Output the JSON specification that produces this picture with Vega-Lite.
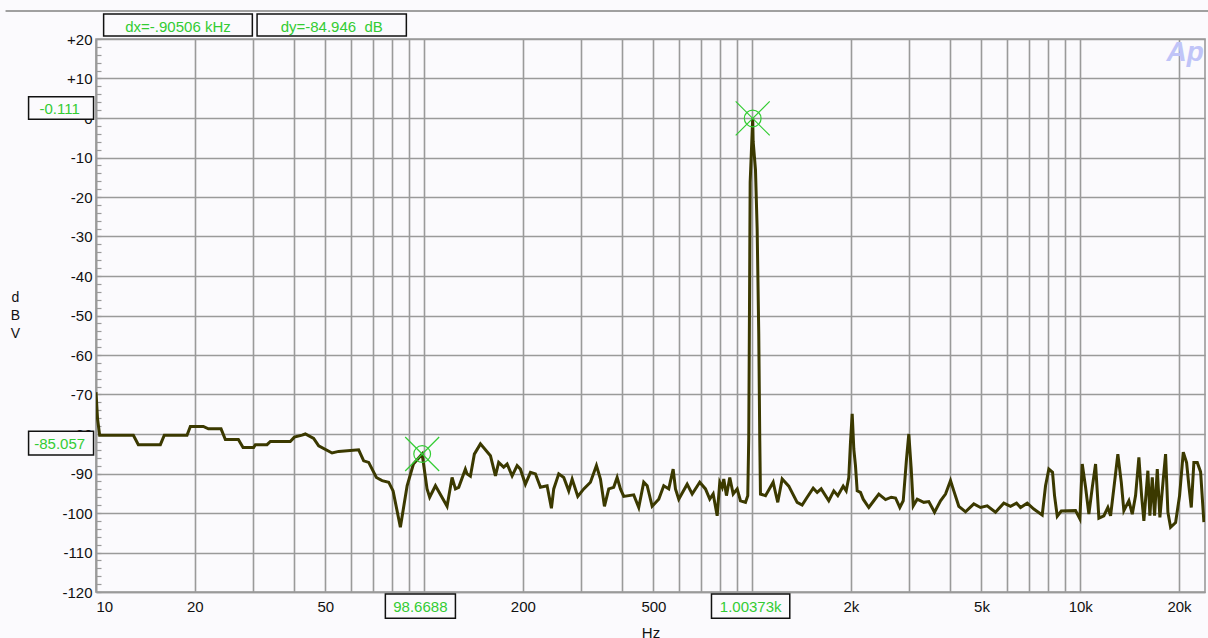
{
  "$schema": "https://vega.github.io/schema/vega-lite/v6.json",
  "autosize": {"type": "none"},
  "padding": {"left": 96, "top": 39, "right": 3, "bottom": 46},
  "width": 1109,
  "height": 553,
  "background": "#fbfafd",
  "view": {"stroke": "#9a9a9a", "strokeWidth": 1.6},
  "config": {"font": "Liberation Sans"},
  "datasets": {
    "spectrum": [
      {"f":10,"db":-69.4},{"f":10.11,"db":-76.2},{"f":10.26,"db":-80.3},{"f":13.0,"db":-80.3},{"f":13.46,"db":-82.7},{"f":15.71,"db":-82.7},{"f":16.15,"db":-80.3},{"f":18.94,"db":-80.3},{"f":19.39,"db":-78.1},{"f":21.24,"db":-78.1},{"f":22.0,"db":-78.7},{"f":24.05,"db":-78.7},{"f":24.79,"db":-81.4},{"f":27.16,"db":-81.4},{"f":28.07,"db":-83.4},{"f":30.23,"db":-83.4},{"f":30.6,"db":-82.7},{"f":33.21,"db":-82.7},{"f":34.0,"db":-81.9},{"f":39.1,"db":-81.9},{"f":40.23,"db":-80.8},{"f":42.46,"db":-80.3},{"f":43.46,"db":-80.0},{"f":46.07,"db":-81.1},{"f":47.72,"db":-83.0},{"f":52.43,"db":-84.8},{"f":54.91,"db":-84.4},{"f":63.18,"db":-84.0},{"f":65.45,"db":-86.8},{"f":67.79,"db":-87.2},{"f":71.55,"db":-91.0},{"f":74.47,"db":-91.8},{"f":78.0,"db":-92.2},{"f":80.45,"db":-94.4},{"f":84.67,"db":-103.6},{"f":88.77,"db":-93.1},{"f":92.78,"db":-87.6},{"f":98.67,"db":-85.06},{"f":102.1,"db":-93.9},{"f":104.0,"db":-96.0},{"f":108.3,"db":-93.1},{"f":117.5,"db":-98.3},{"f":121.7,"db":-91.0},{"f":124.6,"db":-93.9},{"f":127.5,"db":-93.5},{"f":133.6,"db":-88.9},{"f":135.2,"db":-90.1},{"f":138.4,"db":-90.7},{"f":142.3,"db":-85.1},{"f":148.5,"db":-82.5},{"f":159.3,"db":-85.5},{"f":165.0,"db":-90.6},{"f":168.8,"db":-87.2},{"f":174.8,"db":-88.4},{"f":179.1,"db":-87.6},{"f":185.5,"db":-90.6},{"f":192.1,"db":-88.0},{"f":196.6,"db":-88.9},{"f":203.6,"db":-92.7},{"f":211.0,"db":-89.7},{"f":218.5,"db":-90.1},{"f":226.3,"db":-93.5},{"f":237.1,"db":-93.1},{"f":244.4,"db":-98.8},{"f":248.4,"db":-93.9},{"f":257.3,"db":-90.1},{"f":266.5,"db":-91.0},{"f":276.0,"db":-94.4},{"f":282.7,"db":-91.4},{"f":294.1,"db":-95.8},{"f":306.7,"db":-93.9},{"f":321.4,"db":-92.2},{"f":335.2,"db":-88.0},{"f":344.8,"db":-91.4},{"f":354.6,"db":-98.3},{"f":365.5,"db":-93.9},{"f":378.4,"db":-93.5},{"f":387.6,"db":-91.0},{"f":396.7,"db":-93.9},{"f":406.0,"db":-95.8},{"f":435.5,"db":-95.4},{"f":451.1,"db":-98.6},{"f":467.2,"db":-92.2},{"f":478.6,"db":-93.1},{"f":495.6,"db":-98.3},{"f":519.1,"db":-96.5},{"f":537.7,"db":-93.1},{"f":556.9,"db":-93.9},{"f":574.3,"db":-88.9},{"f":583.7,"db":-93.9},{"f":597.3,"db":-96.5},{"f":633.6,"db":-92.7},{"f":656.3,"db":-95.2},{"f":692.2,"db":-92.2},{"f":720.5,"db":-93.9},{"f":742.6,"db":-96.5},{"f":760.6,"db":-95.2},{"f":782.2,"db":-100.7},{"f":796.6,"db":-92.2},{"f":810.1,"db":-93.5},{"f":819.3,"db":-91.4},{"f":834.9,"db":-95.6},{"f":854.5,"db":-91.0},{"f":875.2,"db":-95.2},{"f":900.1,"db":-93.9},{"f":921.1,"db":-96.9},{"f":954.1,"db":-97.3},{"f":969.6,"db":-95.6},{"f":976.3,"db":-80.8},{"f":981.3,"db":-48.4},{"f":986.0,"db":-16.3},{"f":1003.73,"db":-0.111},{"f":1007.0,"db":-6.0},{"f":1023.5,"db":-13.1},{"f":1035.6,"db":-28.1},{"f":1047.3,"db":-54.7},{"f":1054.8,"db":-81.7},{"f":1060,"db":-95.2},{"f":1098,"db":-95.6},{"f":1158.8,"db":-92.2},{"f":1177.6,"db":-94.8},{"f":1196.7,"db":-97.3},{"f":1234.4,"db":-91.4},{"f":1292.9,"db":-93.2},{"f":1371.3,"db":-97.3},{"f":1420.2,"db":-98.0},{"f":1471.0,"db":-96.0},{"f":1534.6,"db":-93.7},{"f":1578.3,"db":-94.8},{"f":1623.2,"db":-93.9},{"f":1711.9,"db":-96.9},{"f":1773.3,"db":-94.4},{"f":1823.8,"db":-95.6},{"f":1894.0,"db":-93.2},{"f":1934.5,"db":-94.4},{"f":1970.0,"db":-91.0},{"f":1993.7,"db":-82.1},{"f":2017.7,"db":-74.9},{"f":2040.6,"db":-83.8},{"f":2064.7,"db":-88.0},{"f":2089.6,"db":-94.4},{"f":2138.8,"db":-94.8},{"f":2179.6,"db":-96.5},{"f":2267.1,"db":-98.6},{"f":2347.9,"db":-96.9},{"f":2432.0,"db":-95.2},{"f":2549.6,"db":-96.6},{"f":2653.7,"db":-96.0},{"f":2735.0,"db":-96.2},{"f":2818.4,"db":-98.6},{"f":2886.9,"db":-96.9},{"f":2954.1,"db":-86.3},{"f":3002.1,"db":-80.0},{"f":3053.6,"db":-88.9},{"f":3096.7,"db":-98.2},{"f":3184.3,"db":-96.5},{"f":3335.8,"db":-97.3},{"f":3454.6,"db":-97.1},{"f":3595.8,"db":-99.8},{"f":3750.6,"db":-96.9},{"f":3884.2,"db":-95.2},{"f":4023.3,"db":-91.8},{"f":4117.0,"db":-94.4},{"f":4264.4,"db":-98.3},{"f":4469.5,"db":-99.7},{"f":4737.6,"db":-97.7},{"f":4965.5,"db":-98.6},{"f":5205.3,"db":-98.2},{"f":5516.6,"db":-99.8},{"f":5847.6,"db":-97.5},{"f":6129.1,"db":-98.3},{"f":6393.7,"db":-97.5},{"f":6575.9,"db":-98.6},{"f":6892.3,"db":-97.5},{"f":7218.8,"db":-99.0},{"f":7656.8,"db":-100.5},{"f":7837.4,"db":-93.1},{"f":8021.7,"db":-88.9},{"f":8231.5,"db":-89.7},{"f":8348.0,"db":-95.6},{"f":8509.1,"db":-100.8},{"f":8751.5,"db":-99.5},{"f":9675.3,"db":-99.4},{"f":9972.4,"db":-101.5},{"f":10141,"db":-87.6},{"f":10380,"db":-93.5},{"f":10623,"db":-100.3},{"f":10880,"db":-93.5},{"f":11135,"db":-87.6},{"f":11396,"db":-101.3},{"f":11803,"db":-100.7},{"f":12136,"db":-98.6},{"f":12370,"db":-100.7},{"f":12723,"db":-92.2},{"f":13019,"db":-85.1},{"f":13335,"db":-92.2},{"f":13580,"db":-99.4},{"f":14066,"db":-96.9},{"f":14405,"db":-100.3},{"f":14743,"db":-95.6},{"f":15090,"db":-85.9},{"f":15378,"db":-95.6},{"f":15628,"db":-102.0},{"f":16073,"db":-89.3},{"f":16300,"db":-100.7},{"f":16577,"db":-91.0},{"f":16846,"db":-100.7},{"f":17171,"db":-88.9},{"f":17487,"db":-101.1},{"f":17907,"db":-91.4},{"f":18200,"db":-85.1},{"f":18497,"db":-99.8},{"f":18850,"db":-103.6},{"f":19525,"db":-102.4},{"f":20078,"db":-95.6},{"f":20606,"db":-84.6},{"f":21090,"db":-87.2},{"f":21433,"db":-93.1},{"f":21797,"db":-98.6},{"f":22197,"db":-87.2},{"f":22734,"db":-87.2},{"f":23270,"db":-89.6},{"f":23813,"db":-102.3}
    ],
    "frame": [{"f": 5.3, "f2": 25000, "db": 27.1}],
    "boxes": [
      {"f": 10.55, "f2": 29.96, "db": 26.33, "db2": 20.76},
      {"f": 30.97, "f2": 88.3, "db": 26.33, "db2": 20.76},
      {"f": 6.23, "f2": 9.83, "db": 5.39, "db2": -0.33},
      {"f": 6.23, "f2": 9.83, "db": -79.32, "db2": -85.32},
      {"f": 76.2, "f2": 124.6, "db": -120.5, "db2": -126.66},
      {"f": 751.6, "f2": 1302, "db": -120.5, "db2": -126.66}
    ],
    "boxtext": [
      {"f": 17.78, "db": 23.1, "label": "dx=-.90506 kHz"},
      {"f": 52.3, "db": 23.1, "label": "dy=-84.946\u00a0 dB"},
      {"f": 7.75, "db": 2.3, "label": "-0.111"},
      {"f": 7.75, "db": -82.5, "label": "-85.057"},
      {"f": 97.43, "db": -123.8, "label": "98.6688"},
      {"f": 989.5, "db": -123.8, "label": "1.00373k"}
    ],
    "cursors": [{"f": 98.6688, "db": -85.057}, {"f": 1003.73, "db": -0.111}],
    "logo": [{"f": 20870, "db": 14.4, "label": "Ap"}]
  },
  "encoding": {
    "x": {
      "field": "f", "type": "quantitative",
      "scale": {"type": "log", "domain": [10, 24000], "nice": false},
      "axis": {
        "values": [10,20,30,40,50,60,70,80,90,100,200,300,400,500,600,700,800,900,1000,2000,3000,4000,5000,6000,7000,8000,9000,10000,20000],
        "labelExpr": "indexof([10,20,50,200,500,2000,5000,10000,20000], datum.value) >= 0 ? (datum.value >= 1000 ? (datum.value/1000) + 'k' : '' + datum.value) : ''",
        "ticks": false, "grid": true, "gridColor": "#9a9a9a", "gridWidth": 1.6,
        "domainColor": "#9a9a9a", "domainWidth": 1.6,
        "labelFontSize": 15, "labelColor": "#111111", "labelPadding": 7, "labelFlush": true, "labelOverlap": false,
        "title": "Hz", "titleFontSize": 15, "titleFontWeight": "normal", "titleColor": "#111111", "titlePadding": 11
      }
    },
    "y": {
      "field": "db", "type": "quantitative",
      "scale": {"domain": [-120, 20], "nice": false, "zero": false},
      "axis": {
        "values": [-120,-118,-116,-114,-112,-110,-108,-106,-104,-102,-100,-98,-96,-94,-92,-90,-88,-86,-84,-82,-80,-78,-76,-74,-72,-70,-68,-66,-64,-62,-60,-58,-56,-54,-52,-50,-48,-46,-44,-42,-40,-38,-36,-34,-32,-30,-28,-26,-24,-22,-20,-18,-16,-14,-12,-10,-8,-6,-4,-2,0,2,4,6,8,10,12,14,16,18,20],
        "labelExpr": "datum.value % 10 === 0 ? (datum.value > 0 ? '+' + datum.value : '' + datum.value) : ''",
        "grid": true, "gridColor": "#9a9a9a", "gridWidth": 1.6,
        "gridOpacity": {"condition": {"test": "datum.value % 10 === 0", "value": 1}, "value": 0},
        "ticks": true, "tickSize": -5, "tickColor": "#9a9a9a", "tickWidth": 1.2,
        "domainColor": "#9a9a9a", "domainWidth": 1.6,
        "labelFontSize": 15, "labelColor": "#111111", "labelPadding": 9, "labelOverlap": false,
        "title": ["d", "B", "V"], "titleAngle": 0, "titleX": -81, "titleY": 258,
        "titleAlign": "center", "titleBaseline": "middle", "titleLineHeight": 18,
        "titleFontSize": 14, "titleFontWeight": "normal", "titleColor": "#111111"
      }
    }
  },
  "layer": [
    {"data": {"name": "spectrum"}, "mark": {"type": "line", "color": "#3b3900", "strokeWidth": 3, "clip": true}},
    {"data": {"name": "frame"}, "mark": {"type": "rule", "color": "#a0a0a0", "strokeWidth": 2}, "encoding": {"x2": {"field": "f2"}}},
    {"data": {"name": "boxes"}, "mark": {"type": "rect", "fill": "#fbfafd", "stroke": "#111111", "strokeWidth": 1.5}, "encoding": {"x2": {"field": "f2"}, "y2": {"field": "db2"}}},
    {"data": {"name": "boxtext"}, "mark": {"type": "text", "color": "#33cc33", "fontSize": 15, "align": "center", "baseline": "middle"}, "encoding": {"text": {"field": "label"}}},
    {"data": {"name": "cursors"}, "mark": {"type": "point", "shape": "circle", "filled": false, "color": "#33cc33", "size": 280, "strokeWidth": 1.2, "opacity": 1}},
    {"data": {"name": "cursors"}, "mark": {"type": "point", "shape": "M-1,-1L1,1M-1,1L1,-1", "filled": false, "color": "#33cc33", "size": 1156, "strokeWidth": 1.2, "opacity": 1}},
    {"data": {"name": "logo"}, "mark": {"type": "text", "color": "#c0c4f8", "fontSize": 28, "fontWeight": "bold", "fontStyle": "italic", "align": "center", "baseline": "alphabetic"}, "encoding": {"text": {"field": "label"}}}
  ]
}
